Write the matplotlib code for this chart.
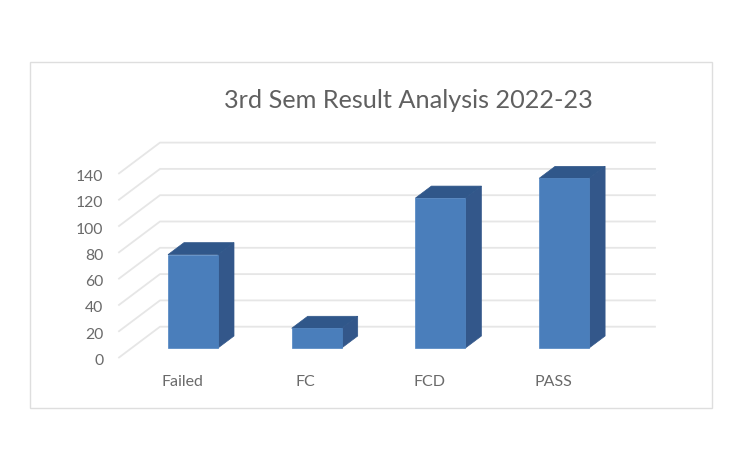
import matplotlib
matplotlib.use("Agg")
import matplotlib.pyplot as plt
from matplotlib.patches import Polygon, Rectangle

plt.rcParams['font.family'] = ['Lato', 'DejaVu Sans']

# values
categories = ['Failed', 'FC', 'FCD', 'PASS']
values = [71, 15, 114, 129]
y_ticks = [0, 20, 40, 60, 80, 100, 120, 140]
title = '3rd Sem Result Analysis 2022-23'

W, H = 747, 450
FIRST_X = 193.0     # pixel centre of first bar
STEP_X = 123.7      # pixels between bars
BASE_Y = 348.0      # pixel row of value 0 on the bar front
PX_PER_VALUE = 1.315

FRONT = '#4a7ebb'
SIDE = '#33578a'
TOP = '#30578a'
GRID = '#e6e6e6'
TEXT = '#6a6a6a'

# pixel sizes turned into data units
def dx(px):
    return px / STEP_X

def dy(px):
    return px / PX_PER_VALUE

fig = plt.figure(figsize=(W / 100, H / 100), dpi=100, facecolor='white')
ax = fig.add_axes([0, 0, 1, 1])
ax.set_xlim(-FIRST_X / STEP_X, (W - FIRST_X) / STEP_X)
ax.set_ylim((BASE_Y - H) / PX_PER_VALUE, BASE_Y / PX_PER_VALUE)
ax.axis('off')

# chart frame
x_left = dx(30 - FIRST_X)
x_right = dx(712 - FIRST_X)
ax.add_patch(Rectangle((x_left, dy(BASE_Y - 408)), x_right - x_left, dy(346),
                       fill=False, edgecolor='#dedede', linewidth=1.0, zorder=1))

# gridlines: back wall plus the slanted floor/side part
back_x0 = dx(160 - FIRST_X)
back_x1 = dx(655 - FIRST_X)
front_x = dx(119 - FIRST_X)
back_off = dy(21.3)
front_off = dy(-9.5)
for v in y_ticks:
    ax.plot([front_x, back_x0, back_x1],
            [v + front_off, v + back_off, v + back_off],
            color=GRID, linewidth=1.3, zorder=2, solid_joinstyle='round')

# bars
half = dx(25)
depth_x = dx(16)
depth_y = dy(12)
for i, v in enumerate(values):
    ax.add_patch(Polygon([(i + half, 0), (i + half + depth_x, depth_y),
                          (i + half + depth_x, v + depth_y), (i + half, v)],
                         facecolor=SIDE, edgecolor=SIDE, linewidth=0.5, zorder=3))
    ax.add_patch(Polygon([(i - half, v), (i + half, v),
                          (i + half + depth_x, v + depth_y), (i - half + depth_x, v + depth_y)],
                         facecolor=TOP, edgecolor=TOP, linewidth=0.5, zorder=3))
    ax.add_patch(Rectangle((i - half, 0), 2 * half, v,
                           facecolor=FRONT, edgecolor='#4f84c1', linewidth=0.5, zorder=4))

# axis labels
for v in y_ticks:
    ax.text(dx(103.5 - FIRST_X), v - dy(13), str(v), ha='right', va='center',
            fontsize=11.3, color=TEXT, zorder=5)
for i, name in enumerate(categories):
    ax.text(i - dx(11), dy(-34.5), name, ha='center', va='center',
            fontsize=11.5, color=TEXT, zorder=5)

ax.text(dx(408.5 - FIRST_X), dy(BASE_Y - 100), title, ha='center', va='center',
        fontsize=18.2, color='#606060', zorder=5)

fig.savefig('out.png', dpi=100, facecolor='white')
